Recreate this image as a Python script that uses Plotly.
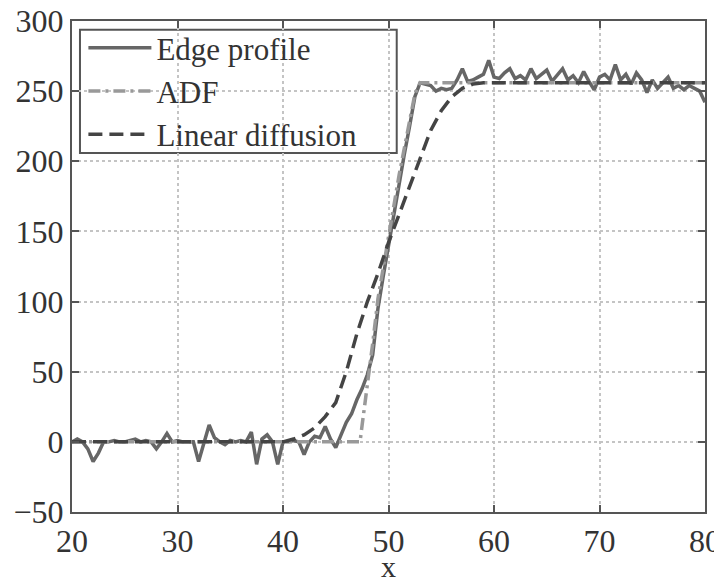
import plotly.graph_objects as go

# ---- data ----
edge_x = [20 + 0.5 * i for i in range(121)]
edge_y = [
    0, 2, 0, -5, -14, -8, 0, 0, 1, 0,          # 20 - 24.5
    0, 1, 2, 0, 1, 0, -5, 0, 6, 0,             # 25 - 29.5
    1, 0, 0, 0, -14, 0, 12, 3, 0, -2,          # 30 - 34.5
    1, 0, 1, 0, 7, -16, 2, 5, 0, -16,          # 35 - 39.5
    0, 0, 1, 0, -9, 0, 4, 3, 11, 2,            # 40 - 44.5
    -4, 5, 14, 20, 30, 38, 48, 62, 95, 118,    # 45 - 49.5
    140, 162, 185, 205, 225, 246, 256, 255, 254, 250,  # 50 - 54.5
    252, 251, 252, 258, 266, 257, 258, 260, 262, 272,  # 55 - 59.5
    260, 259, 263, 266, 259, 261, 258, 266, 259, 262,  # 60 - 64.5
    265, 257, 262, 266, 258, 261, 256, 264, 257, 251,  # 65 - 69.5
    260, 262, 258, 269, 258, 262, 255, 263, 258, 249,  # 70 - 74.5
    258, 252, 256, 260, 252, 254, 251, 254, 252, 250,  # 75 - 79.5
    242,                                               # 80
]

adf_x = [20, 47.3, 47.5, 48, 48.5, 49, 49.5, 50, 50.5, 51, 51.5, 52, 52.5, 53, 80]
adf_y = [0, 0, 12, 40, 70, 102, 125, 148, 168, 190, 210, 230, 248, 256, 256]

lin_x = [20, 40, 41, 42, 43, 44, 45, 46, 47, 48, 49, 50, 51, 52, 53, 54, 55, 56, 57, 58, 59, 60, 80]
lin_y = [0, 0, 2, 5, 10, 18, 28, 50, 77, 100, 120, 142, 162, 182, 203, 222, 236, 246, 252, 255, 256, 256, 256]

x_ticks = [20, 30, 40, 50, 60, 70, 80]
y_ticks = [-50, 0, 50, 100, 150, 200, 250, 300]
x_title = "x"

FONT = "Liberation Serif"
AXIS_COL = "#555555"
TEXT_COL = "#333333"

fig = go.Figure()
fig.add_trace(go.Scatter(x=edge_x, y=edge_y, mode="lines", name="Edge profile",
                         line=dict(color="#666666", width=3.5)))
fig.add_trace(go.Scatter(x=adf_x, y=adf_y, mode="lines", name="ADF",
                         line=dict(color="#999999", width=3.5, dash="12px,5px,3px,5px")))
fig.add_trace(go.Scatter(x=lin_x, y=lin_y, mode="lines", name="Linear diffusion",
                         line=dict(color="#444444", width=3.5, dash="14px,7px")))

axis_common = dict(
    showline=True, linecolor=AXIS_COL, linewidth=2, mirror="ticks",
    ticks="inside", ticklen=7, tickcolor=AXIS_COL, tickwidth=2,
    showgrid=True, gridcolor="#c4c4c4", griddash="dot", gridwidth=1.5,
    zeroline=False, automargin=False, ticklabeloverflow="allow",
    tickfont=dict(family=FONT, size=32, color=TEXT_COL),
)

# legend frame (white box hiding the grid, drawn under the traces)
fig.add_shape(type="rect", xref="paper", yref="paper",
              x0=0.0126, x1=0.513, y0=0.731, y1=0.982,
              line=dict(color=AXIS_COL, width=2), fillcolor="white",
              layer="between")

# x-axis title as an annotation anchored at the bottom edge
fig.add_annotation(text=x_title, xref="paper", yref="paper", x=0.5, y=-0.1487,
                   xanchor="center", yanchor="bottom", showarrow=False,
                   font=dict(family=FONT, size=30, color=TEXT_COL))

# the page body keeps an 8px margin; the figure is shifted by 8px accordingly
fig.update_layout(
    width=722, height=577,
    margin=dict(l=64, r=25, t=13, b=73, autoexpand=False),
    paper_bgcolor="white", plot_bgcolor="white",
    font=dict(family=FONT, size=32, color=TEXT_COL),
    xaxis=dict(range=[20, 80], tickvals=x_ticks, **axis_common),
    yaxis=dict(range=[-50, 300], tickvals=y_ticks, **axis_common),
    legend=dict(x=0.018, y=1.0, xanchor="left", yanchor="top",
                bgcolor="rgba(0,0,0,0)", borderwidth=0,
                font=dict(family=FONT, size=31, color=TEXT_COL),
                itemwidth=63, tracegroupgap=0),
    showlegend=True,
)

fig.write_html("out.html")
